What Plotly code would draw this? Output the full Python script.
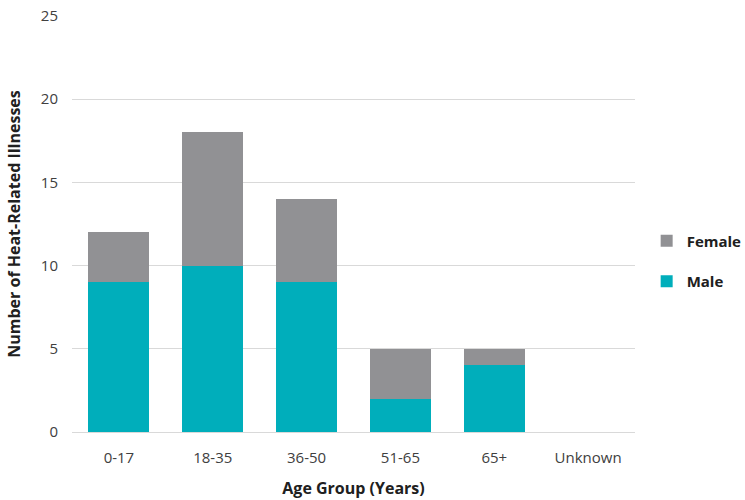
import plotly.graph_objects as go

categories = ["0-17", "18-35", "36-50", "51-65", "65+", "Unknown"]
male = [9, 10, 9, 2, 4, 0]
female = [3, 8, 5, 3, 1, 0]
y_ticks = [0, 5, 10, 15, 20, 25]

fig = go.Figure()
fig.add_trace(go.Bar(x=categories, y=male, name="Male", marker_color="#00AEBB",
                     marker_line_width=0, legendgroup="m", legendrank=2))
fig.add_trace(go.Bar(x=categories, y=female, name="Female", marker_color="#919194",
                     marker_line_width=0, legendgroup="f", legendrank=1))

font = "Open Sans, Liberation Sans, sans-serif"
fig.update_layout(
    barmode="stack",
    bargap=0.35,
    width=745, height=500,
    margin=dict(l=72, r=110, t=16, b=68),
    plot_bgcolor="white", paper_bgcolor="white",
    font=dict(family=font, size=14, color="#404040"),
    legend=dict(traceorder="grouped", xref="container", yref="container",
                x=0.868, y=0.478, yanchor="middle", xanchor="left",
                font=dict(size=15, color="#202020", family=font, weight="bold"),
                itemwidth=30, tracegroupgap=18),
    xaxis=dict(title=dict(text="<b>Age Group (Years)</b>", font=dict(size=16, color="#202020"), standoff=16),
               automargin=False,
               showline=True, linecolor="#d9d9d9", linewidth=1,
               ticks="outside", ticklen=12, tickcolor="rgba(0,0,0,0)", tickfont=dict(size=15)),
    yaxis=dict(title=dict(text="<b>Number of Heat-Related Illnesses</b>", font=dict(size=16, color="#202020"), standoff=16),
               automargin=False,
               range=[0, 25], tickvals=y_ticks, gridcolor="#d9d9d9", gridwidth=1,
               ticks="outside", ticklen=10, tickcolor="rgba(0,0,0,0)",
               zeroline=False, showline=False, tickfont=dict(size=15)),
)
fig.write_html("out.html", config={"displayModeBar": False},
               post_script="document.body.style.margin='0';")
